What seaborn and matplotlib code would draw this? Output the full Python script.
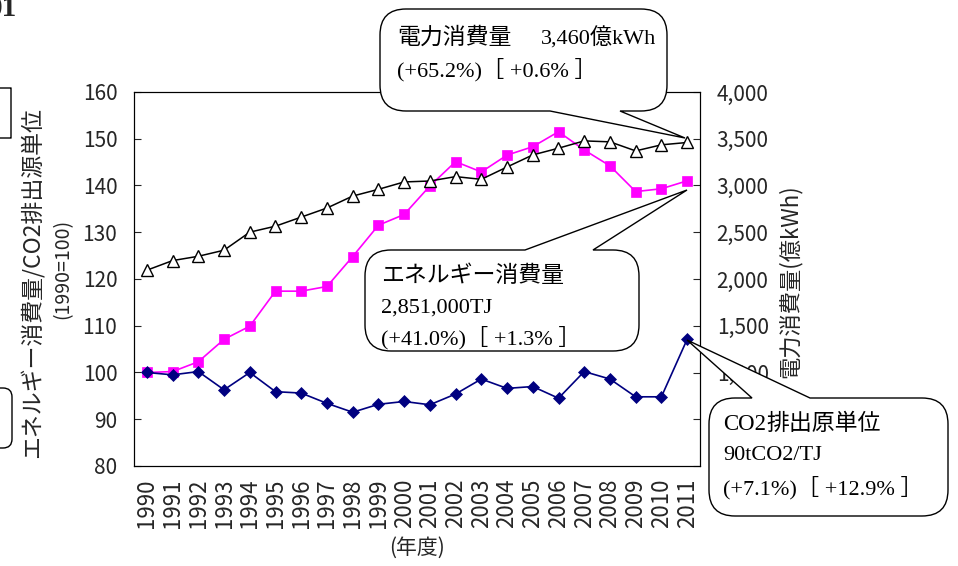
import numpy as np
import pandas as pd
import matplotlib
matplotlib.use("Agg")
import matplotlib.pyplot as plt
import seaborn as sns
from matplotlib.path import Path
from matplotlib.patches import PathPatch
from matplotlib.ticker import FuncFormatter

# ---- data -------------------------------------------------------------
years = ["1990", "1991", "1992", "1993", "1994", "1995", "1996", "1997",
         "1998", "1999", "2000", "2001", "2002", "2003", "2004", "2005",
         "2006", "2007", "2008", "2009", "2010", "2011"]
# energy consumption index (1990 = 100)
energy_index = [100.0, 100.2, 102.3, 107.1, 109.9, 117.4, 117.4, 118.4,
                124.8, 131.5, 133.8, 139.9, 145.1, 142.9, 146.5, 148.3,
                151.5, 147.6, 144.2, 138.7, 139.3, 141.0]
# CO2 emission intensity index (1990 = 100)
co2_index = [100.0, 99.5, 100.2, 96.3, 100.0, 95.9, 95.6, 93.4,
             91.5, 93.2, 93.8, 93.1, 95.4, 98.6, 96.6, 97.0,
             94.5, 100.2, 98.6, 94.8, 94.8, 107.1]
# electricity consumption (100 million kWh)
electricity = [2094, 2197, 2243, 2308, 2501, 2565, 2662, 2759,
               2887, 2959, 3038, 3048, 3095, 3066, 3198, 3327,
               3399, 3477, 3467, 3370, 3435, 3460]

left_ticks = [80, 90, 100, 110, 120, 130, 140, 150, 160]
right_ticks = [0, 500, 1000, 1500, 2000, 2500, 3000, 3500, 4000]

df = pd.DataFrame({
    "pos": np.arange(len(years)),
    "year": years,
    "energy": energy_index,
    "co2": co2_index,
    "elec": electricity,
})

# ---- style ------------------------------------------------------------
sns.set_style("white")
SANS = ["Noto Sans CJK JP", "DejaVu Sans"]
SERIF = ["Liberation Serif", "Noto Sans CJK JP"]
plt.rcParams["font.family"] = SANS
plt.rcParams["axes.linewidth"] = 0.8
plt.rcParams["axes.edgecolor"] = "black"

W, H = 958, 566
fig = plt.figure(figsize=(W / 100, H / 100), dpi=100)
fig.patch.set_facecolor("white")

L, R, T, B = 134, 700, 92, 466
ax = fig.add_axes([L / W, 1 - B / H, (R - L) / W, (B - T) / H])
ax2 = ax.twinx()

# ---- series -----------------------------------------------------------
sns.lineplot(data=df, x="pos", y="energy", ax=ax, color="#FF00FF",
             marker="s", markersize=6.5, markeredgecolor="#FF00FF",
             markeredgewidth=0.5, linewidth=1.2)
sns.lineplot(data=df, x="pos", y="co2", ax=ax, color="#000080",
             marker="D", markersize=6.3, markeredgecolor="#000080",
             markeredgewidth=0.5, linewidth=1.2)
sns.lineplot(data=df, x="pos", y="elec", ax=ax2, color="black",
             marker="^", markersize=8.5, markerfacecolor="white",
             markeredgecolor="black", markeredgewidth=1.0, linewidth=1.1)

# ---- axes -------------------------------------------------------------
ax.set_xlim(-0.5, len(years) - 0.5)
ax.set_ylim(80, 160)
ax2.set_ylim(0, 4000)
ax.set_yticks(left_ticks)
ax2.set_yticks(right_ticks)
ax2.yaxis.set_major_formatter(FuncFormatter(lambda v, p: f"{int(v):,}"))

ax.set_xticks(df["pos"])
ax.set_xticklabels(years, rotation=90)
ax.set_xticks(np.arange(-0.5, len(years), 1.0), minor=True)
ax.tick_params(axis="x", which="major", length=0, pad=9, labelsize=16)
ax.tick_params(axis="x", which="minor", length=5, direction="in", width=0.8)
ax.tick_params(axis="y", direction="in", length=5, width=0.8, pad=12,
               labelsize=15)
ax2.tick_params(axis="y", direction="in", length=5, width=0.8, pad=12,
                labelsize=15)
for a in (ax, ax2):
    a.set_xlabel("")
    a.set_ylabel("")
    for s in a.spines.values():
        s.set_visible(True)
        s.set_color("black")
        s.set_linewidth(0.8)
    a.grid(False)

# the two lowest right-hand labels sit under the CO2 callout box
fig.canvas.draw()
for lbl in ax2.get_yticklabels():
    if lbl.get_text() in ("0", "500"):
        lbl.set_visible(False)

# axis titles
fig.text(33 / W, 1 - 283 / H, "エネルギー消費量/CO2排出源単位", rotation=90,
         ha="center", va="center", fontsize=16.5)
fig.text(63 / W, 1 - 269 / H, "(1990=100)", rotation=90,
         ha="center", va="center", fontsize=14)
fig.text(790 / W, 1 - 281 / H, "電力消費量(億kWh)", rotation=90,
         ha="center", va="center", fontsize=16)
fig.text(417 / W, 1 - 548 / H, "(年度)", ha="center", va="center",
         fontsize=15)


# ---- callout bubbles --------------------------------------------------
def px(x, y):
    return (x / W, 1 - y / H)


def bubble_path(x0, y0, x1, y1, r, tail=None):
    verts, codes = [], []

    def move(p):
        verts.append(px(*p)); codes.append(Path.MOVETO)

    def line(p):
        verts.append(px(*p)); codes.append(Path.LINETO)

    def curve(c, p):
        verts.extend([px(*c), px(*p)]); codes.extend([Path.CURVE3, Path.CURVE3])

    move((x0 + r, y0))
    if tail and tail[0] == "top":
        _, b0, b1, tip = tail
        line((b0, y0)); line(tip); line((b1, y0))
    line((x1 - r, y0)); curve((x1, y0), (x1, y0 + r))
    line((x1, y1 - r)); curve((x1, y1), (x1 - r, y1))
    if tail and tail[0] == "bottom":
        _, b0, b1, tip = tail
        line((b1, y1)); line(tip); line((b0, y1))
    line((x0 + r, y1)); curve((x0, y1), (x0, y1 - r))
    line((x0, y0 + r)); curve((x0, y0), (x0 + r, y0))
    verts.append(px(x0 + r, y0)); codes.append(Path.CLOSEPOLY)
    return Path(verts, codes)


def add_shape(path, z=5):
    fig.add_artist(PathPatch(path, transform=fig.transFigure,
                             facecolor="white", edgecolor="black",
                             linewidth=1.0, zorder=z))


def put(x, y, s, family, size):
    fig.text(x / W, 1 - y / H, s, ha="left", va="center",
             family=family, fontsize=size, color="black", zorder=6)


add_shape(bubble_path(380, 9, 667, 111, 26, ("bottom", 550, 620, (685, 138))))
put(397, 37, "電力消費量", SANS, 16.5)
put(541, 38, "3,460億kWh", SERIF, 16)
put(397, 70, "(+65.2%)［ +0.6% ］", SERIF, 16)

add_shape(bubble_path(365, 250, 639, 351, 26, ("top", 525, 593, (687, 190))))
put(381, 275, "エネルギー消費量", SANS, 16.5)
put(381, 308, "2,851,000TJ", SERIF, 16)
put(381, 338, "(+41.0%)［ +1.3% ］", SERIF, 16)

add_shape(bubble_path(709, 398, 948, 516, 26, ("top", 752, 810, (687, 340))))
put(723, 424, "CO2", ["Liberation Serif"], 16.5)
put(766, 424, "排出原単位", SANS, 16.5)
put(723, 456, "90tCO2/TJ", SERIF, 16)
put(723, 488, "(+7.1%)［ +12.9% ］", SERIF, 16)

# partly visible frames at the left margin
add_shape(bubble_path(-30, 88, 11, 138, 0.01))
add_shape(bubble_path(-40, 388, 12, 448, 9))

# page number fragment at the top-left corner
fig.text(17 / W, 1 - 16 / H, "01", ha="right", va="baseline",
         family=["Liberation Serif"], fontsize=21, fontweight="bold")

fig.savefig("out.png", dpi=100)
